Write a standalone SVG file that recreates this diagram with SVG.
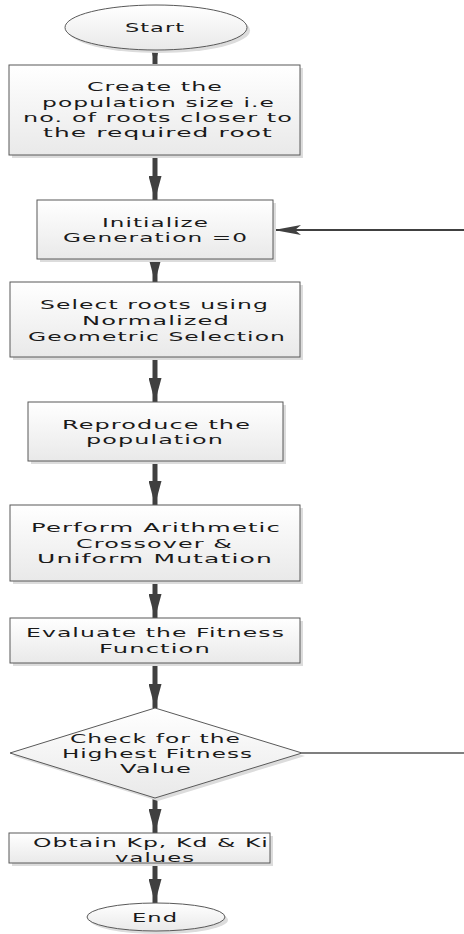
<svg xmlns="http://www.w3.org/2000/svg" width="464" height="934" viewBox="0 0 464 934">
<defs>
<linearGradient id="g" x1="0" y1="0" x2="0" y2="1">
<stop offset="0" stop-color="#ffffff"/>
<stop offset="1" stop-color="#e9e9e9"/>
</linearGradient>
<marker id="ah" viewBox="0 0 24 13" refX="24" refY="6.5" markerWidth="24" markerHeight="13" markerUnits="userSpaceOnUse" orient="auto">
<path d="M0,0 L24,6.5 L0,13 Z" fill="#404040"/>
</marker>
<marker id="ah2" viewBox="0 0 27 10" refX="27" refY="5" markerWidth="27" markerHeight="10" markerUnits="userSpaceOnUse" orient="auto">
<path d="M0,0 L27,5 L0,10 L6,5 Z" fill="#404040"/>
</marker>
</defs>
<style>
.shape{fill:url(#g);stroke:#595959;stroke-width:1}
.shadow{fill:#dcdcdc}
.t{font-family:"DejaVu Sans","Verdana",sans-serif;font-size:13px;letter-spacing:0.6px;fill:#1a1a1a;text-anchor:middle}
.flow{stroke:#404040;stroke-width:5;fill:none;marker-end:url(#ah)}
</style>
<g id="connectors">
<line class="flow" x1="155" y1="48" x2="155" y2="64"/>
<line class="flow" x1="155" y1="155" x2="155" y2="200"/>
<line class="flow" x1="155" y1="259" x2="155" y2="282"/>
<line class="flow" x1="155" y1="357" x2="155" y2="402"/>
<line class="flow" x1="155" y1="461" x2="155" y2="505"/>
<line class="flow" x1="155" y1="581" x2="155" y2="618"/>
<line class="flow" x1="155" y1="663" x2="155" y2="708"/>
<line class="flow" x1="155" y1="798" x2="155" y2="833"/>
<line class="flow" x1="155" y1="863" x2="155" y2="903"/>
<line x1="464" y1="230" x2="274" y2="230" stroke="#404040" stroke-width="2" marker-end="url(#ah2)"/>
<line x1="302" y1="753" x2="464" y2="753" stroke="#555" stroke-width="1.3"/>
</g>
<g id="start">
<ellipse class="shadow" cx="159" cy="30.5" rx="91" ry="22.5"/>
<ellipse class="shape" cx="156" cy="27.5" rx="91" ry="22.5"/>
<text class="t" x="155" y="32" textLength="60" lengthAdjust="spacingAndGlyphs">Start</text>
</g>
<g id="create">
<rect class="shadow" x="12" y="68" width="291" height="90"/>
<rect class="shape" x="9" y="65" width="291" height="90"/>
<text class="t" x="155" y="91" textLength="136" lengthAdjust="spacingAndGlyphs">Create the</text>
<text class="t" x="158.5" y="106.5" textLength="233" lengthAdjust="spacingAndGlyphs">population size i.e</text>
<text class="t" x="158" y="121.5" textLength="270" lengthAdjust="spacingAndGlyphs">no. of roots closer to</text>
<text class="t" x="158" y="137" textLength="230" lengthAdjust="spacingAndGlyphs">the required root</text>
</g>
<g id="init">
<rect class="shadow" x="40" y="203" width="236" height="59"/>
<rect class="shape" x="37" y="200" width="236" height="59"/>
<text class="t" x="155.5" y="227" textLength="107" lengthAdjust="spacingAndGlyphs">Initialize</text>
<text class="t" x="155.5" y="242" textLength="185" lengthAdjust="spacingAndGlyphs">Generation =0</text>
</g>
<g id="select">
<rect class="shadow" x="13" y="285" width="290" height="75"/>
<rect class="shape" x="10" y="282" width="290" height="75"/>
<text class="t" x="154.5" y="309" textLength="229" lengthAdjust="spacingAndGlyphs">Select roots using</text>
<text class="t" x="156" y="325" textLength="148" lengthAdjust="spacingAndGlyphs">Normalized</text>
<text class="t" x="157" y="341" textLength="258" lengthAdjust="spacingAndGlyphs">Geometric Selection</text>
</g>
<g id="reproduce">
<rect class="shadow" x="31" y="405" width="255" height="59"/>
<rect class="shape" x="28" y="402" width="255" height="59"/>
<text class="t" x="156.5" y="428.5" textLength="189" lengthAdjust="spacingAndGlyphs">Reproduce the</text>
<text class="t" x="155" y="443.5" textLength="138" lengthAdjust="spacingAndGlyphs">population</text>
</g>
<g id="crossover">
<rect class="shadow" x="13" y="508" width="290" height="76"/>
<rect class="shape" x="10" y="505" width="290" height="76"/>
<text class="t" x="156" y="532" textLength="250" lengthAdjust="spacingAndGlyphs">Perform Arithmetic</text>
<text class="t" x="154.5" y="547.5" textLength="157" lengthAdjust="spacingAndGlyphs">Crossover &amp;</text>
<text class="t" x="155" y="563" textLength="236" lengthAdjust="spacingAndGlyphs">Uniform Mutation</text>
</g>
<g id="evaluate">
<rect class="shadow" x="13" y="621" width="290" height="45"/>
<rect class="shape" x="10" y="618" width="290" height="45"/>
<text class="t" x="155.5" y="637" textLength="259" lengthAdjust="spacingAndGlyphs">Evaluate the Fitness</text>
<text class="t" x="155" y="652.5" textLength="112" lengthAdjust="spacingAndGlyphs">Function</text>
</g>
<g id="check">
<polygon class="shadow" points="158,711 305,756 158,801 13,756"/>
<polygon class="shape" points="155,708 302,753 155,798 10,753"/>
<text class="t" x="155.5" y="743" textLength="171" lengthAdjust="spacingAndGlyphs">Check for the</text>
<text class="t" x="157.5" y="758" textLength="191" lengthAdjust="spacingAndGlyphs">Highest Fitness</text>
<text class="t" x="156" y="773" textLength="72" lengthAdjust="spacingAndGlyphs">Value</text>
</g>
<g id="obtain">
<rect class="shadow" x="12" y="836" width="261" height="30"/>
<rect class="shape" x="9" y="833" width="261" height="30"/>
<text class="t" x="151" y="847" textLength="236" lengthAdjust="spacingAndGlyphs">Obtain Kp, Kd &amp; Ki</text>
<text class="t" x="155" y="862" textLength="80" lengthAdjust="spacingAndGlyphs">values</text>
</g>
<g id="end">
<ellipse class="shadow" cx="159" cy="920" rx="69" ry="14"/>
<ellipse class="shape" cx="156" cy="917" rx="69" ry="14"/>
<text class="t" x="155" y="922" textLength="46" lengthAdjust="spacingAndGlyphs">End</text>
</g>
</svg>
